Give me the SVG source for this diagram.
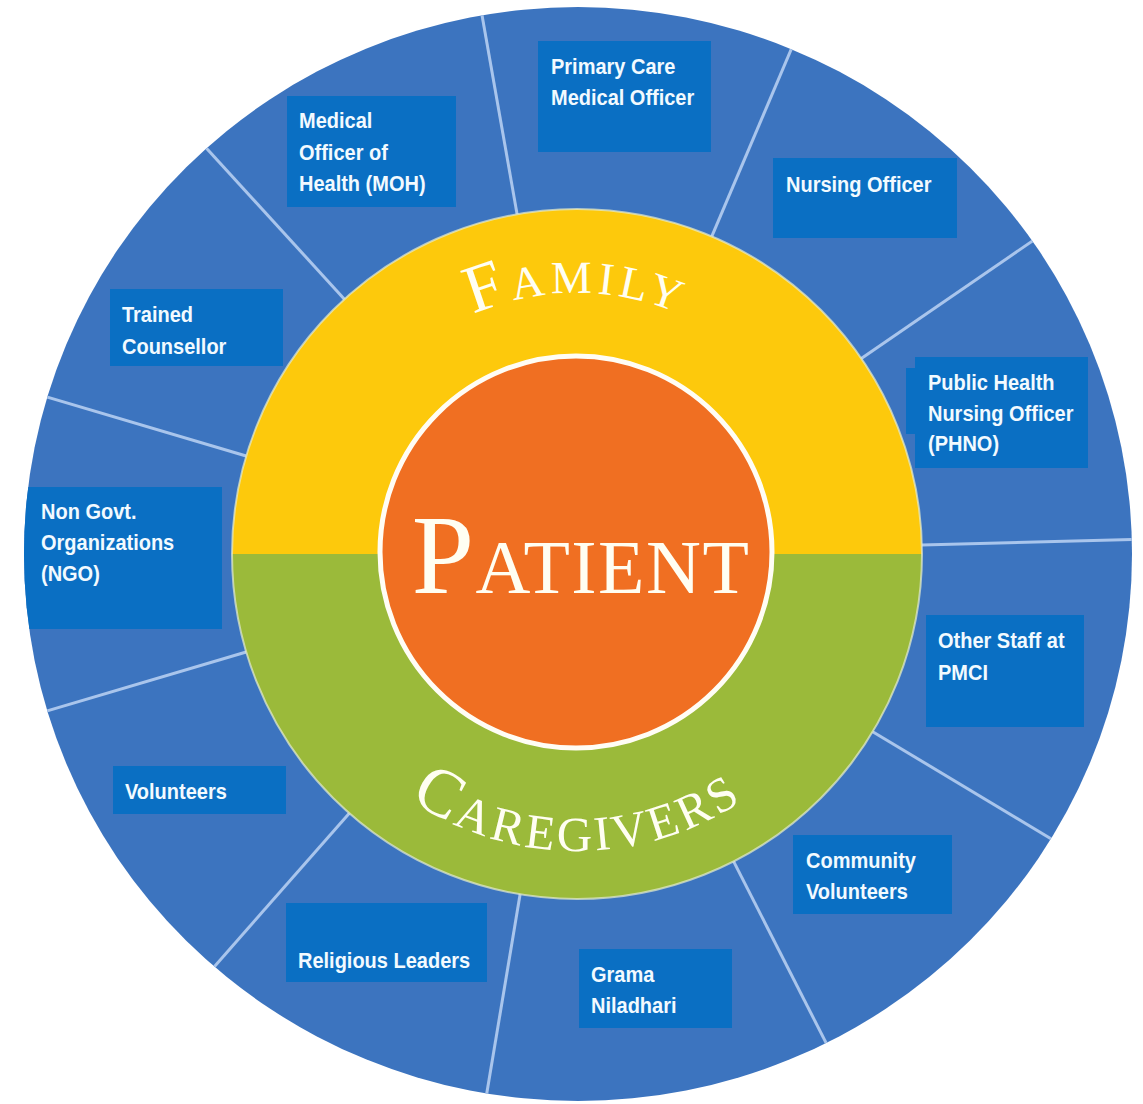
<svg xmlns="http://www.w3.org/2000/svg" width="1143" height="1104" viewBox="0 0 1143 1104">
  <style>
    .ring{fill:#3C74BF}
    .box{fill:#0A6FC3}
    .lbl{font-family:"Liberation Sans",Arial,sans-serif;font-weight:bold;font-size:21.5px;fill:#F2FAFF;transform-box:fill-box;transform-origin:0% 50%;transform:scaleX(0.93)}
    .div{stroke:#A9C5EC;stroke-width:3;fill:none}
    .serif{font-family:"Liberation Serif","Times New Roman",serif;fill:#FFFEF2}
  </style>
  <defs>
    <clipPath id="outer"><ellipse cx="578" cy="554" rx="554" ry="547"/></clipPath>
    <clipPath id="topHalf"><rect x="0" y="0" width="1143" height="554"/></clipPath>
    <clipPath id="botHalf"><rect x="0" y="554" width="1143" height="550"/></clipPath>
    <path id="famArc" d="M 316,554 A 261,261 0 0 1 838,554"/>
    <path id="careArc" d="M 280,554 A 297,297 0 0 0 874,554"/>
  </defs>
  <rect width="1143" height="1104" fill="#FFFFFF"/>
  <g id="outer-ring">
    <ellipse class="ring" cx="578" cy="554" rx="554" ry="547"/>
  </g>
  <g id="dividers" clip-path="url(#outer)">
    <line class="div" x1="517.1" y1="214.2" x2="476.3" y2="-17.2"/>
    <line class="div" x1="711.8" y1="236.4" x2="803.6" y2="20.1"/>
    <line class="div" x1="861.3" y1="358.6" x2="1055.0" y2="225.5"/>
    <line class="div" x1="921.9" y1="545.0" x2="1156.8" y2="538.8"/>
    <line class="div" x1="872.7" y1="731.7" x2="1074.2" y2="852.7"/>
    <line class="div" x1="733.6" y1="861.4" x2="840.3" y2="1070.8"/>
    <line class="div" x1="520.1" y1="894.3" x2="481.3" y2="1126.0"/>
    <line class="div" x1="349.3" y1="813.2" x2="194.1" y2="989.7"/>
    <line class="div" x1="246.2" y1="652.0" x2="20.9" y2="718.7"/>
    <line class="div" x1="246.2" y1="456.0" x2="20.9" y2="389.3"/>
    <line class="div" x1="344.4" y1="299.2" x2="185.9" y2="125.7"/>
  </g>
  <g id="family">
    <circle cx="577" cy="554" r="345" fill="#FDC90C" clip-path="url(#topHalf)"/>
    <text class="serif" letter-spacing="5"><textPath href="#famArc" startOffset="50%" text-anchor="middle"><tspan font-size="68">F</tspan><tspan font-size="46">AMILY</tspan></textPath></text>
  </g>
  <g id="caregivers">
    <circle cx="577" cy="554" r="345" fill="#9BBA3A" clip-path="url(#botHalf)"/>
    <text class="serif" letter-spacing="3.5"><textPath href="#careArc" startOffset="50%" text-anchor="middle"><tspan font-size="68">C</tspan><tspan font-size="49">AREGIVERS</tspan></textPath></text>
  </g>
  <circle cx="577" cy="554" r="345" fill="none" stroke="#E6EDD0" stroke-width="2" opacity="0.7"/>
  <g id="patient">
    <circle cx="576" cy="552" r="196" fill="#F06F22" stroke="#FFFDF5" stroke-width="5"/>
    <text class="serif" x="581" y="593" text-anchor="middle" letter-spacing="1.5"><tspan font-size="112">P</tspan><tspan font-size="76">ATIENT</tspan></text>
  </g>
  <g id="nodes" clip-path="url(#outer)">
    <g id="moh">
      <rect class="box" x="287" y="96" width="169" height="111"/>
      <text class="lbl" x="299" y="128">Medical</text>
      <text class="lbl" x="299" y="160">Officer of</text>
      <text class="lbl" x="299" y="191">Health (MOH)</text>
    </g>
    <g id="primary-care">
      <rect class="box" x="538" y="41" width="173" height="111"/>
      <text class="lbl" x="551" y="74">Primary Care</text>
      <text class="lbl" x="551" y="105">Medical Officer</text>
    </g>
    <g id="nursing-officer">
      <rect class="box" x="773" y="158" width="184" height="80"/>
      <text class="lbl" x="786" y="192">Nursing Officer</text>
    </g>
    <g id="phno">
      <rect class="box" x="906" y="368" width="12" height="66"/>
      <rect class="box" x="915" y="357" width="173" height="111"/>
      <text class="lbl" x="928" y="390">Public Health</text>
      <text class="lbl" x="928" y="421">Nursing Officer</text>
      <text class="lbl" x="928" y="451">(PHNO)</text>
    </g>
    <g id="other-staff">
      <rect class="box" x="926" y="615" width="158" height="112"/>
      <text class="lbl" x="938" y="648">Other Staff at</text>
      <text class="lbl" x="938" y="680">PMCI</text>
    </g>
    <g id="community-volunteers">
      <rect class="box" x="793" y="835" width="159" height="79"/>
      <text class="lbl" x="806" y="868">Community</text>
      <text class="lbl" x="806" y="899">Volunteers</text>
    </g>
    <g id="grama-niladhari">
      <rect class="box" x="579" y="949" width="153" height="79"/>
      <text class="lbl" x="591" y="982">Grama</text>
      <text class="lbl" x="591" y="1013">Niladhari</text>
    </g>
    <g id="religious-leaders">
      <rect class="box" x="286" y="903" width="201" height="79"/>
      <text class="lbl" x="298" y="968">Religious Leaders</text>
    </g>
    <g id="volunteers">
      <rect class="box" x="113" y="766" width="173" height="48"/>
      <text class="lbl" x="125" y="799">Volunteers</text>
    </g>
    <g id="ngo">
      <rect class="box" x="24" y="487" width="198" height="142"/>
      <text class="lbl" x="41" y="519">Non Govt.</text>
      <text class="lbl" x="41" y="550">Organizations</text>
      <text class="lbl" x="41" y="581">(NGO)</text>
    </g>
    <g id="trained-counsellor">
      <rect class="box" x="110" y="289" width="173" height="77"/>
      <text class="lbl" x="122" y="322">Trained</text>
      <text class="lbl" x="122" y="354">Counsellor</text>
    </g>
  </g>
</svg>
